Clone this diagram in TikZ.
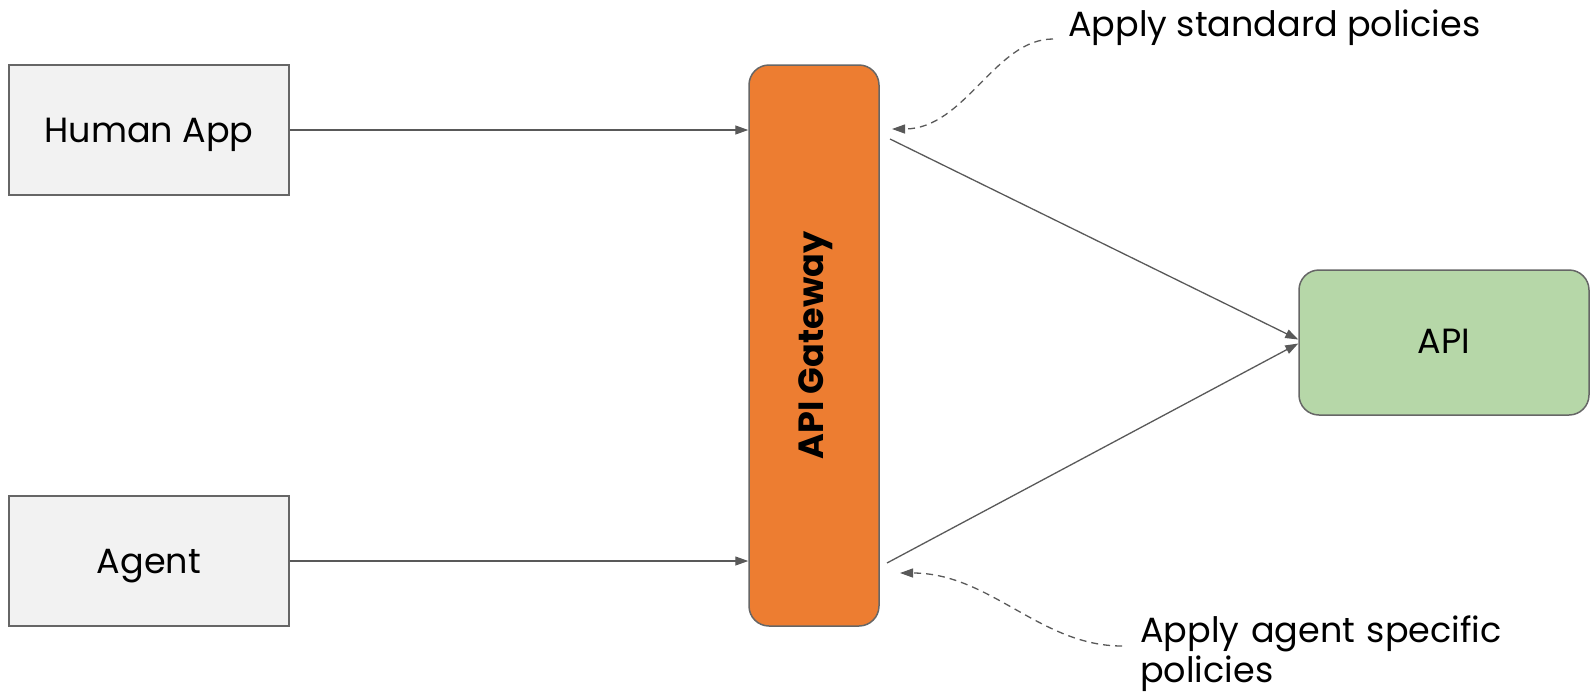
\documentclass[tikz,border=0pt]{standalone}
\usepackage{fontspec}
\setmainfont{Poppins}
\usetikzlibrary{arrows.meta}
\definecolor{boxgray}{HTML}{F2F2F2}
\definecolor{edge}{HTML}{666666}
\definecolor{gworange}{HTML}{ED7D31}
\definecolor{apigreen}{HTML}{B6D7A8}
\definecolor{linec}{HTML}{595959}
\tikzset{
  txt/.style={font=\fontsize{35}{40}\selectfont, text=black},
  client/.style={draw=edge, line width=1.5pt, fill=boxgray, minimum width=280pt, minimum height=130pt, txt, text depth=0pt},
  gateway/.style={draw=edge, line width=1.5pt, fill=gworange, rounded corners=20pt, minimum width=130pt, minimum height=561pt},
  apibox/.style={draw=edge, line width=1.5pt, fill=apigreen, rounded corners=20pt, minimum width=290pt, minimum height=145pt, txt, text depth=3pt},
  arr/.style={draw=linec, line width=1.3pt, -{Triangle[length=13pt,width=9pt]}},
  dasharr/.style={draw=linec, line width=1.3pt, dash pattern=on 7pt off 5pt, -{Triangle[length=13pt,width=9pt]}},
  note/.style={txt, inner sep=0pt, align=left}
}
\begin{document}
\begin{tikzpicture}[x=1pt,y=-1pt]
\useasboundingbox (0,0) rectangle (1591,694);
\node[client] (human) at (149,130) {Human App};
\node[client] (agent) at (149,561) {Agent};
\node[gateway] (gw) at (814,345.5) {};
\node[font=\fontsize{35}{40}\selectfont\bfseries, rotate=90] (gwlabel) at ([xshift=2pt]gw.center) {API Gateway};
\node[apibox] (api) at (1444,342.5) {API};
\node[note, anchor=base west] (std) at (1068,36) {Apply standard policies};
\node[note, anchor=base west, text width=420pt] (agt) at (1140,642) {Apply agent specific\\policies};

\coordinate (o1) at (890,139);
\coordinate (o2) at (887,563);
\coordinate (in1) at (892,129);
\coordinate (in2) at (900,573);
\coordinate (s1) at (1053,39);
\coordinate (s2) at (1122,646);

\draw[arr] (human.east) -- (human.east -| gw.west);
\draw[arr] (agent.east) -- (agent.east -| gw.west);
\draw[arr] (o1) -- ([yshift=3pt]api.west);
\draw[arr] (o2) -- ([yshift=-1pt]api.west);
\draw[dasharr] (s1) .. controls (995,39) and (965,129) .. (in1);
\draw[dasharr] (s2) .. controls (1040,646) and (990,573) .. (in2);
\end{tikzpicture}
\end{document}
